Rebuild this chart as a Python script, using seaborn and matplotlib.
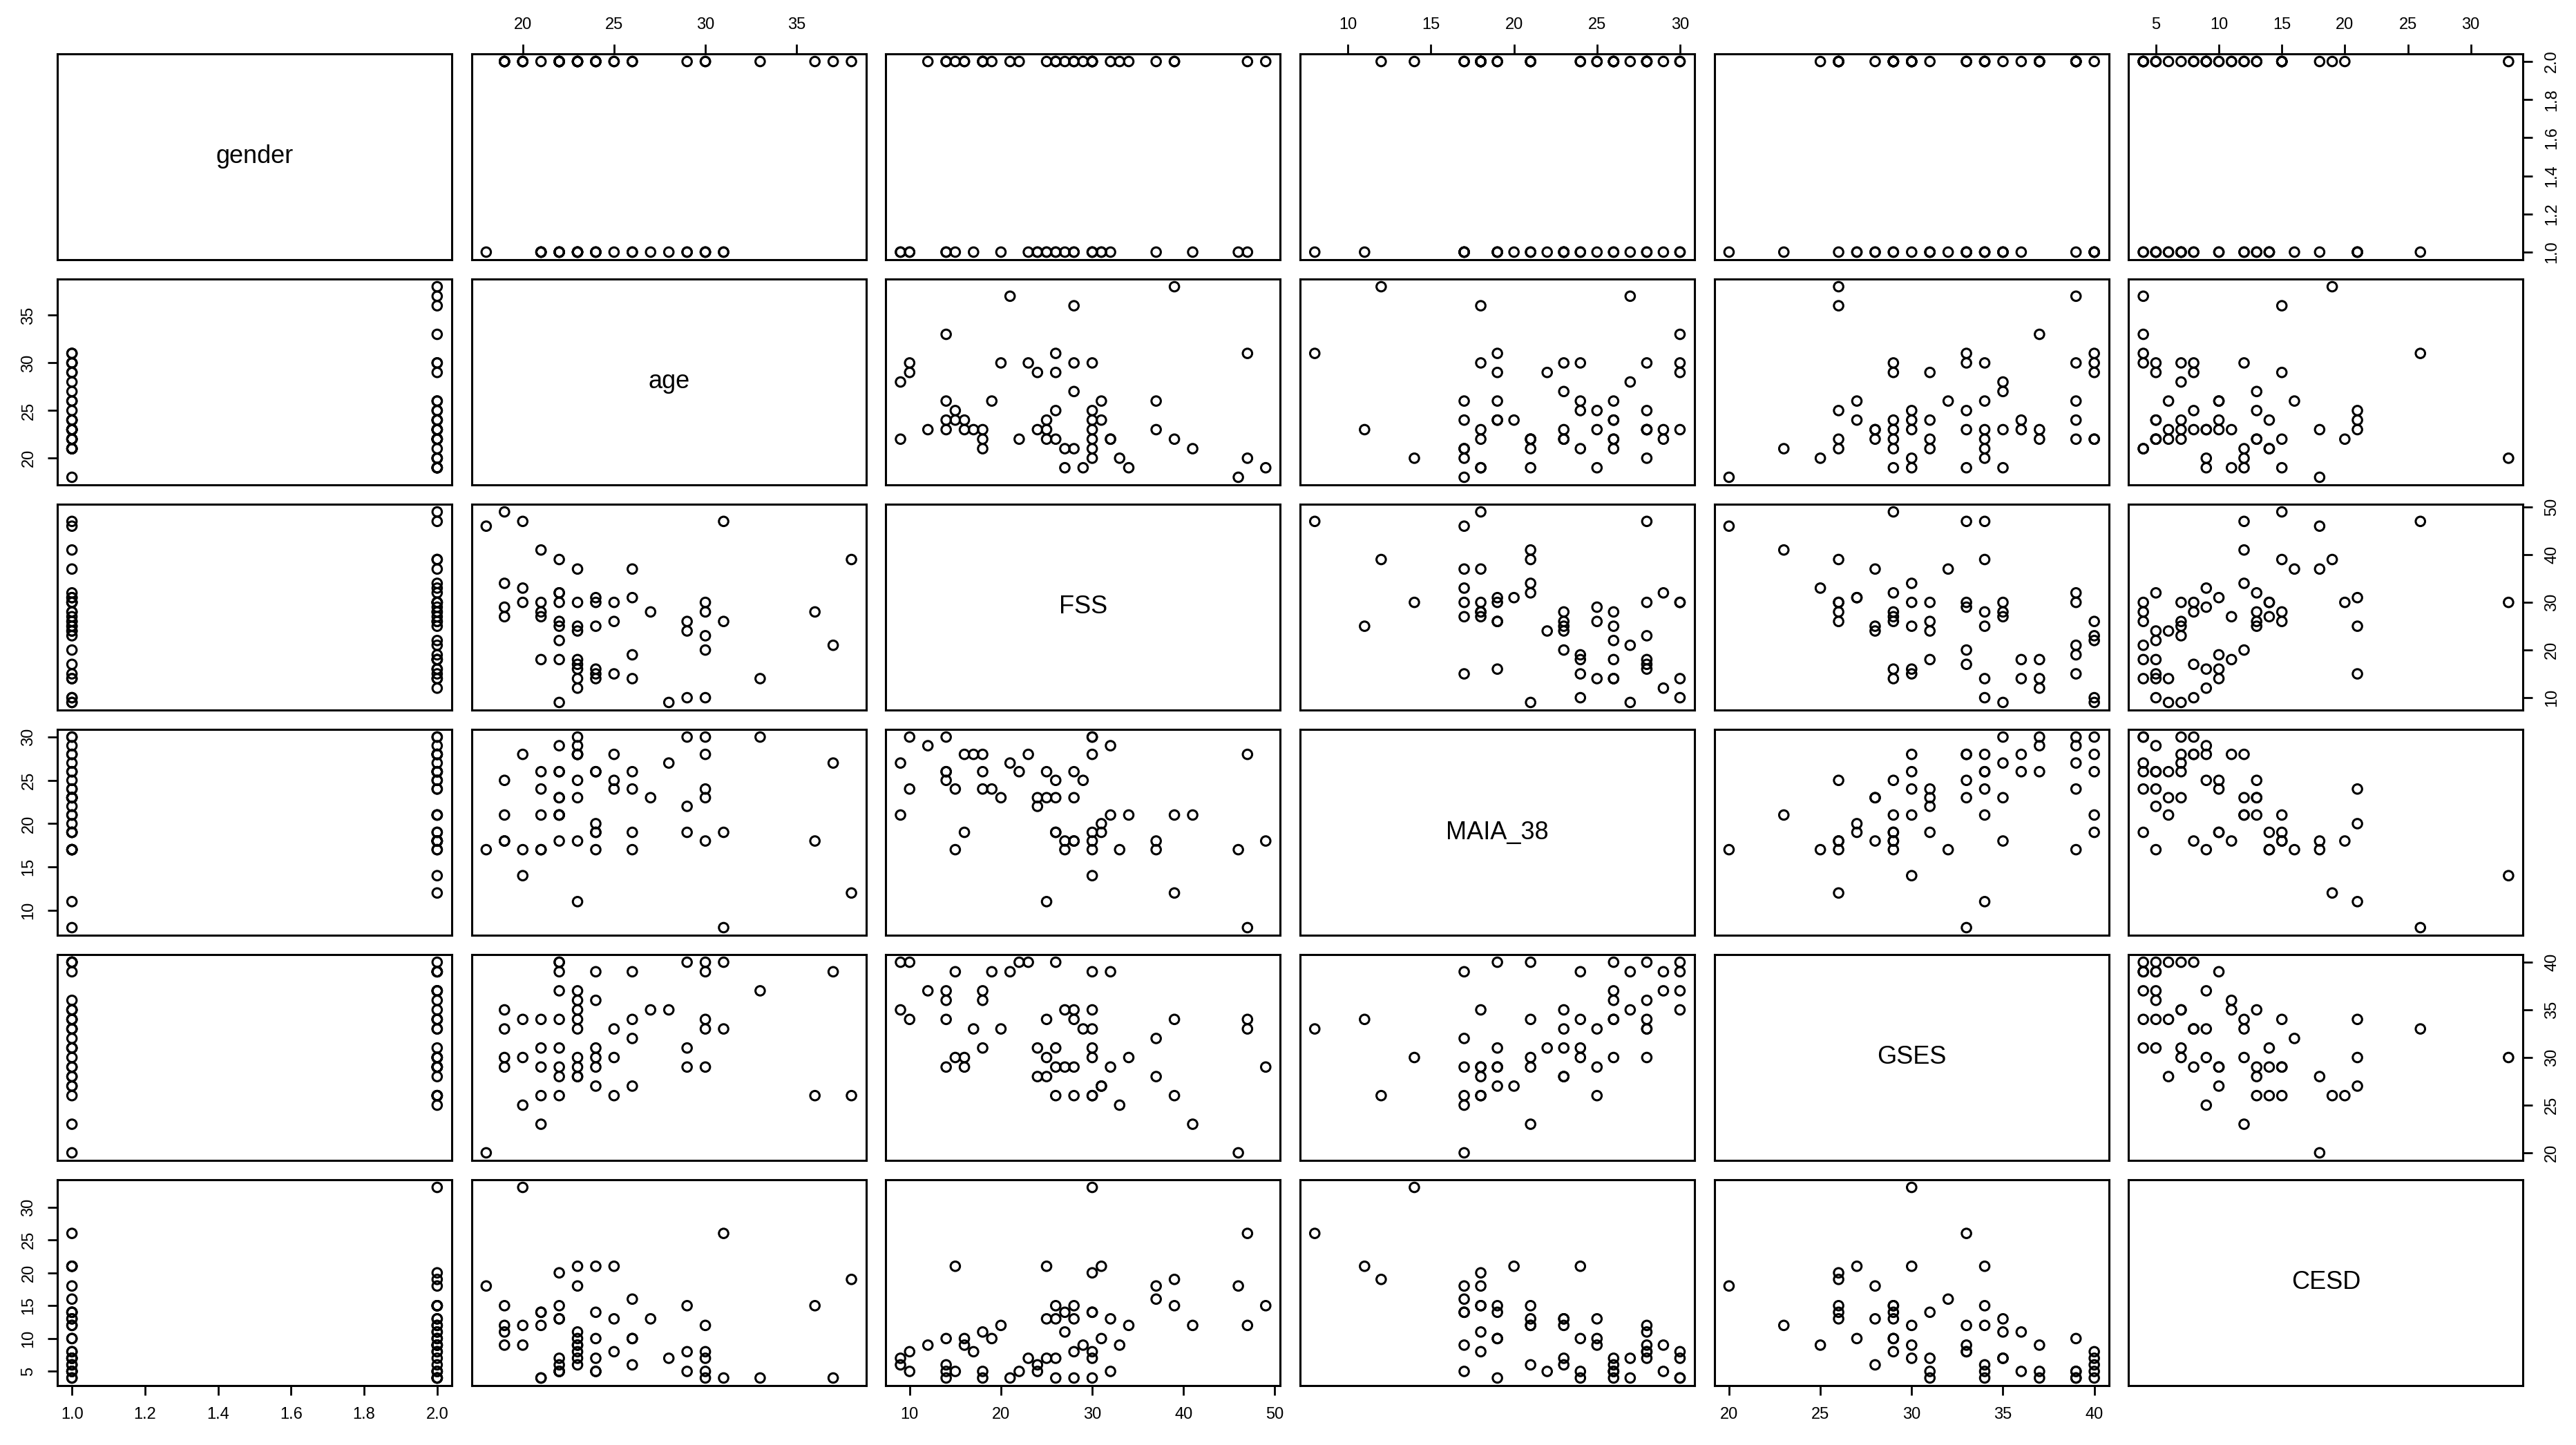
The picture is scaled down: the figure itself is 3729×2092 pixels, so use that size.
import matplotlib
matplotlib.use("Agg")
import matplotlib.pyplot as plt
import seaborn as sns
import pandas as pd

# one entry per respondent
gender = [2, 1, 1, 1, 1, 2, 2, 1, 2, 1, 2, 2, 2, 2, 1, 1, 1, 1, 2, 2,
          1, 2, 2, 1, 1, 2, 2, 1, 2, 2, 1, 2, 2, 2, 2, 1, 2, 1, 2, 1,
          1, 1, 1, 2, 1, 1, 2, 2, 2, 1, 1, 2, 1, 1, 2, 1, 2, 1, 2, 2]
age = [20, 31, 23, 24, 25, 22, 38, 18, 23, 26, 19, 22, 29, 36, 21, 21, 24, 22, 22, 25,
       27, 19, 20, 21, 30, 19, 23, 23, 24, 26, 26, 19, 20, 23, 23, 23, 25, 29, 30, 28,
       30, 22, 23, 24, 22, 23, 26, 22, 22, 22, 24, 24, 29, 30, 21, 21, 30, 31, 33, 37]
fss = [30, 47, 25, 31, 15, 30, 39, 46, 37, 37, 49, 39, 26, 28, 27, 30, 30, 25, 32, 26,
       28, 34, 47, 41, 20, 27, 18, 14, 16, 19, 31, 29, 33, 12, 16, 17, 30, 10, 28, 9,
       23, 26, 30, 25, 9, 24, 14, 22, 18, 32, 14, 15, 24, 10, 18, 28, 30, 26, 14, 21]
maia_38 = [14, 8, 11, 20, 24, 18, 12, 17, 18, 17, 18, 21, 19, 18, 17, 17, 19, 23, 21, 25,
           23, 21, 28, 21, 23, 18, 28, 25, 19, 24, 19, 25, 17, 29, 28, 28, 28, 30, 18, 27,
           28, 23, 30, 26, 21, 23, 26, 26, 26, 29, 26, 17, 22, 24, 24, 26, 30, 19, 30, 27]
gses = [30, 33, 34, 27, 30, 26, 26, 20, 28, 32, 29, 34, 29, 26, 29, 26, 31, 28, 29, 26,
        35, 30, 34, 23, 33, 35, 36, 29, 29, 39, 27, 33, 25, 37, 30, 33, 33, 40, 29, 35,
        40, 31, 35, 30, 40, 28, 34, 40, 37, 39, 36, 39, 31, 34, 31, 34, 39, 40, 37, 39]
cesd = [33, 26, 21, 21, 21, 20, 19, 18, 18, 16, 15, 15, 15, 15, 14, 14, 14, 13, 13, 13,
        13, 12, 12, 12, 12, 11, 11, 10, 10, 10, 10, 9, 9, 9, 9, 8, 8, 8, 8, 7,
        7, 7, 7, 7, 6, 6, 6, 5, 5, 5, 5, 5, 5, 5, 4, 4, 4, 4, 4, 4]

var_names = ["gender", "age", "FSS", "MAIA_38", "GSES", "CESD"]
gender_ticks = [1.0, 1.2, 1.4, 1.6, 1.8, 2.0]
age_ticks = [20, 25, 30, 35]
fss_ticks = [10, 20, 30, 40, 50]
maia_ticks = [10, 15, 20, 25, 30]
gses_ticks = [20, 25, 30, 35, 40]
cesd_ticks = [5, 10, 15, 20, 25, 30]

df = pd.DataFrame({"gender": gender, "age": age, "FSS": fss,
                   "MAIA_38": maia_38, "GSES": gses, "CESD": cesd})
ticks = dict(zip(var_names, [gender_ticks, age_ticks, fss_ticks,
                             maia_ticks, gses_ticks, cesd_ticks]))

sns.set_style("white")
plt.rcParams["font.family"] = ["Liberation Sans", "DejaVu Sans"]
plt.rcParams["text.color"] = "black"
plt.rcParams["xtick.color"] = "black"
plt.rcParams["ytick.color"] = "black"

W, H = 3730, 2092
fig = plt.figure(figsize=(W / 100, H / 100), dpi=100)

# panel grid in pixels (R pairs layout)
left0, top0 = 83, 78
col_step, row_step = 599.7, 326
panel_w, panel_h = 571, 298

n = len(var_names)
for i, yname in enumerate(var_names):
    for j, xname in enumerate(var_names):
        x0 = left0 + j * col_step
        y0 = top0 + i * row_step
        ax = fig.add_axes([x0 / W, 1 - (y0 + panel_h) / H, panel_w / W, panel_h / H])

        xs = df[xname]
        ys = df[yname]
        xr = xs.max() - xs.min()
        yr = ys.max() - ys.min()

        if i == j:
            ax.text(0.5, 0.5, yname, transform=ax.transAxes, ha="center",
                    va="center", fontsize=26)
        else:
            sns.scatterplot(x=xs, y=ys, ax=ax, s=95, marker="o",
                            facecolors="none", edgecolor="black", linewidth=2.2)
        ax.set_xlim(xs.min() - 0.04 * xr, xs.max() + 0.04 * xr)
        ax.set_ylim(ys.min() - 0.04 * yr, ys.max() + 0.04 * yr)
        ax.set_xlabel("")
        ax.set_ylabel("")
        ax.set_xticks(ticks[xname])
        ax.set_yticks(ticks[yname])
        if xname == "gender":
            ax.set_xticklabels([f"{t:.1f}" for t in gender_ticks])
        if yname == "gender":
            ax.set_yticklabels([f"{t:.1f}" for t in gender_ticks])

        show_top = (i == 0 and j % 2 == 1)
        show_bottom = (i == n - 1 and j % 2 == 0)
        show_left = (j == 0 and i % 2 == 1)
        show_right = (j == n - 1 and i % 2 == 0)
        ax.tick_params(top=show_top, bottom=show_bottom, left=show_left,
                       right=show_right, labeltop=show_top, labelbottom=show_bottom,
                       labelleft=show_left, labelright=show_right,
                       direction="out", length=10, width=2, labelsize=17, pad=12)
        for lab in ax.get_yticklabels():
            lab.set_rotation(90)
            lab.set_va("center")
        for sp in ax.spines.values():
            sp.set_color("black")
            sp.set_linewidth(2.2)

fig.savefig("out.png", dpi=100, facecolor="white")
